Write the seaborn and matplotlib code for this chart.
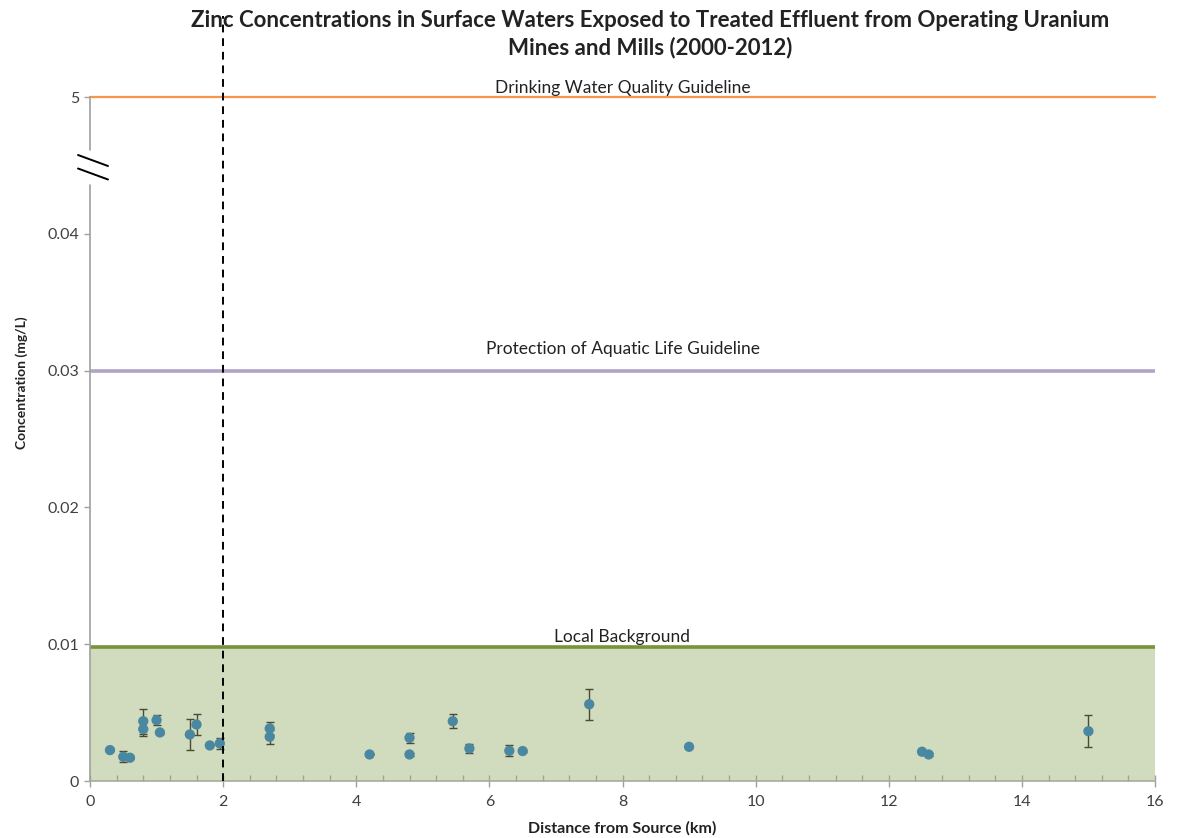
import numpy as np
import pandas as pd
import matplotlib
matplotlib.use("Agg")
import matplotlib.pyplot as plt
from matplotlib.lines import Line2D
import seaborn as sns

# ---- data ----
distance_km = [0.3, 0.5, 0.6, 0.8, 0.8, 1.0, 1.05, 1.5, 1.6, 1.8, 1.95, 2.7, 2.7,
               4.2, 4.8, 4.8, 5.45, 5.7, 6.3, 6.5, 7.5, 9.0, 12.5, 12.6, 15.0]
zinc_mg_l = [0.00226, 0.00177, 0.00170, 0.00437, 0.00379, 0.00445, 0.00355, 0.00340,
             0.00413, 0.00260, 0.00275, 0.00384, 0.00323, 0.00194, 0.00316, 0.00194,
             0.00437, 0.00238, 0.00221, 0.00219, 0.00561, 0.00250, 0.00214, 0.00194,
             0.00364]
zinc_err = [0.0001, 0.0004, 0.0001, 0.0009, 0.0005, 0.00036, 0.0001, 0.00112,
            0.0008, 0.0, 0.0004, 0.0005, 0.0005, 0.0, 0.00036, 0.0001, 0.0005,
            0.00035, 0.0004, 0.0001, 0.00113, 0.0, 0.0, 0.0001, 0.00118]

drinking_water_guideline = 5.0
aquatic_life_guideline = 0.03
local_background = 0.0098
boundary_km = 2.0

y_ticks = [0, 0.01, 0.02, 0.03, 0.04, 5]
y_tick_labels = ["0", "0.01", "0.02", "0.03", "0.04", "5"]
x_ticks = [0, 2, 4, 6, 8, 10, 12, 14, 16]

title = ("Zinc Concentrations in Surface Waters Exposed to Treated Effluent from Operating Uranium\n"
         "Mines and Mills (2000-2012)")

df = pd.DataFrame({"x": distance_km, "y": zinc_mg_l, "err": zinc_err})

# ---- style ----
sns.set_style("white")
plt.rcParams["font.family"] = ["Lato", "DejaVu Sans"]

W, H = 1177, 838
fig = plt.figure(figsize=(W / 100, H / 100), dpi=100)
ax = fig.add_axes([90 / W, 1 - 781 / H, (1155 - 90) / W, (781 - 97) / H])

# broken y scale: linear up to 0.045, compressed above so that 5 sits at 0.05
BRK = 0.045
K = 0.005 / (drinking_water_guideline - BRK)


def fwd(v):
    v = np.asarray(v, dtype=float)
    return np.where(v <= BRK, v, BRK + (v - BRK) * K)


def inv(v):
    v = np.asarray(v, dtype=float)
    return np.where(v <= BRK, v, BRK + (v - BRK) / K)


ax.set_yscale("function", functions=(fwd, inv))
ax.set_xlim(0, 16)
ax.set_ylim(0, drinking_water_guideline)

# background band
ax.axhspan(0, local_background, color="#d1dbbd", zorder=0, lw=0)
ax.axhline(local_background, color="#77933c", lw=2.6, zorder=2)
ax.axhline(aquatic_life_guideline, color="#b3a2c7", lw=2.6, zorder=2)
ax.axhline(drinking_water_guideline, color="#f79646", lw=1.6, zorder=2, clip_on=False)

# error bars + points
ax.errorbar(df["x"], df["y"], yerr=df["err"], fmt="none", ecolor="#4a4a35",
            elinewidth=1.0, capsize=3.2, capthick=1.0, zorder=3)
sns.scatterplot(data=df, x="x", y="y", ax=ax, color="#4a88a2", s=55,
                edgecolor="none", zorder=4, legend=False)

# vertical dashed boundary line extending above the axes
trans = matplotlib.transforms.blended_transform_factory(ax.transData, ax.transAxes)
ax.add_line(Line2D([boundary_km, boundary_km], [0, (781 - 16) / 684], transform=trans,
                   color="black", lw=1.4, ls=(0, (4, 3)), clip_on=False, zorder=5))

# guideline labels
lab_kw = dict(ha="center", va="bottom", fontsize=12.5, color="#222222",
              textcoords="offset points")
ax.annotate("Drinking Water Quality Guideline", (8, drinking_water_guideline),
            xytext=(0, 1.0), annotation_clip=False, **lab_kw)
ax.annotate("Protection of Aquatic Life Guideline", (8, aquatic_life_guideline),
            xytext=(0, 9.5), **lab_kw)
ax.annotate("Local Background", (8, local_background), xytext=(0, 1.5), **lab_kw)

# axes / ticks
for s in ["top", "right", "left"]:
    ax.spines[s].set_visible(False)
ax.spines["bottom"].set_color("#a6ad9a")
ax.spines["bottom"].set_linewidth(1.2)

gray = "#a0a0a0"
ax.add_line(Line2D([0, 0], [0, (781 - 185) / 684], transform=ax.transAxes,
                   color=gray, lw=1.2, clip_on=False))
ax.add_line(Line2D([0, 0], [(781 - 150) / 684, 1], transform=ax.transAxes,
                   color=gray, lw=1.2, clip_on=False))
for y0 in (155, 168.5):
    fig.add_artist(Line2D([78 / W, 108 / W], [1 - y0 / H, 1 - (y0 + 11) / H],
                          color="black", lw=1.4))

ax.set_yticks(y_ticks)
ax.set_yticklabels(y_tick_labels)
ax.yaxis.set_minor_locator(matplotlib.ticker.NullLocator())
ax.tick_params(axis="y", which="major", direction="out", length=4, width=1,
               color=gray, labelsize=11.5, labelcolor="#404040", pad=4, left=True)

ax.set_xticks(x_ticks)
ax.set_xticklabels([str(t) for t in x_ticks])
ax.xaxis.set_minor_locator(matplotlib.ticker.MultipleLocator(0.4))
ax.tick_params(axis="x", which="major", direction="inout", length=8, width=1,
               color=gray, labelsize=11.5, labelcolor="#404040", pad=6, bottom=True)
ax.tick_params(axis="x", which="minor", direction="in", length=4, width=1,
               color=gray, bottom=True)

ax.set_xlabel("Distance from Source (km)", fontsize=11.5, fontweight="bold",
              color="#222222")
ax.xaxis.set_label_coords(0.4995, -(828 - 781) / 684)
ax.set_ylabel("Concentration (mg/L)", fontsize=10, fontweight="bold",
              color="#222222")
ax.yaxis.set_label_coords((22 - 90) / 1065, (781 - 383) / 684)
for lab in (ax.xaxis.label, ax.yaxis.label):
    lab.set_va("center")

fig.text(650 / W, 1 - 34 / H, title, ha="center", va="center", fontsize=16,
         fontweight="bold", color="#222222", linespacing=1.35)

fig.savefig("out.png", dpi=100, facecolor="white")
